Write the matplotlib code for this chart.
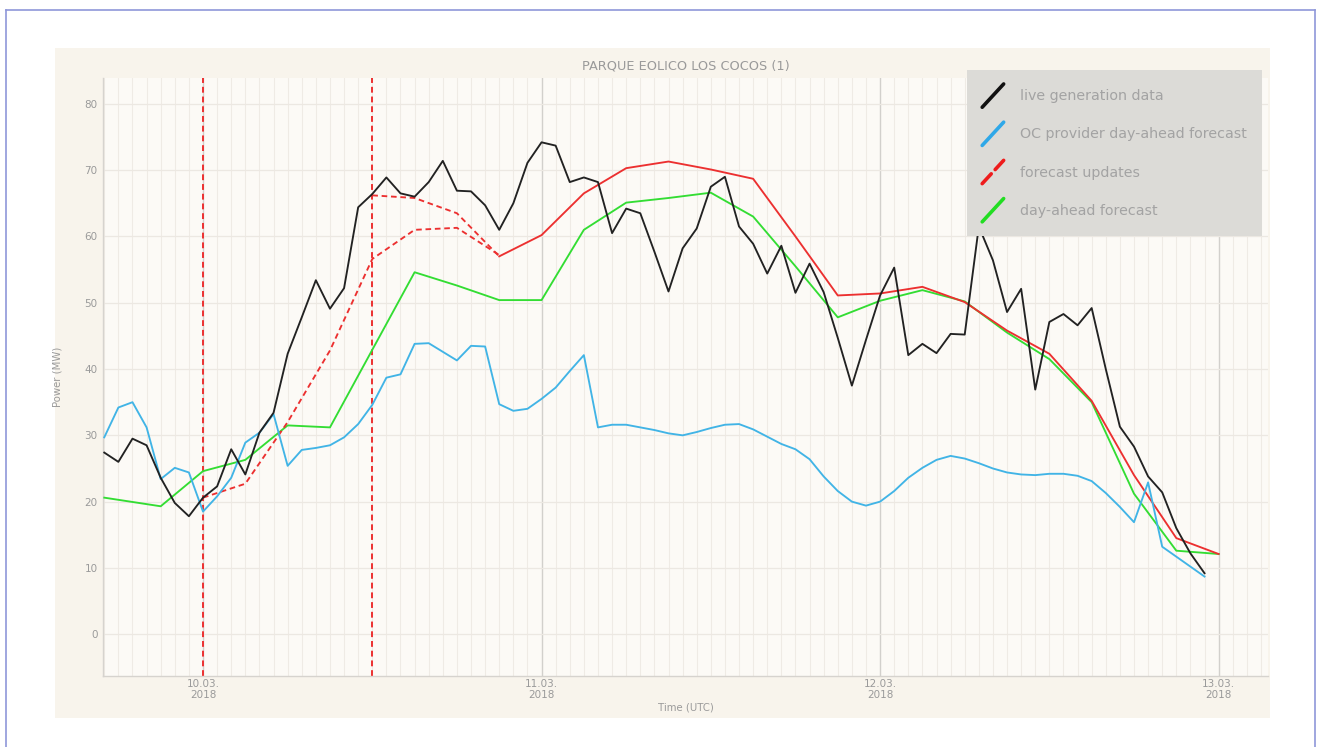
import numpy as np
import pandas as pd
import matplotlib
matplotlib.use("Agg")
import matplotlib.pyplot as plt
import matplotlib.dates as mdates
from matplotlib.lines import Line2D
from matplotlib.legend_handler import HandlerBase

# ---------------- data (hours relative to 10.03.2018 00:00 UTC) ----------------
live_hours = list(range(-7, 72))
live_mw = [27.4, 26.0, 29.5, 28.5, 23.6, 19.8, 17.8, 20.6, 22.3, 27.9,
           24.1, 30.4, 33.4, 42.3, 47.8, 53.4, 49.1, 52.2, 64.4, 66.4,
           68.9, 66.5, 66.0, 68.2, 71.4, 66.9, 66.8, 64.7, 61.0, 65.0,
           71.1, 74.2, 73.7, 68.2, 68.9, 68.2, 60.5, 64.2, 63.5, 57.7,
           51.7, 58.2, 61.2, 67.5, 69.0, 61.5, 58.9, 54.4, 58.6, 51.5,
           55.9, 51.6, 44.7, 37.5, 44.4, 51.1, 55.3, 42.1, 43.8, 42.4,
           45.3, 45.2, 61.5, 56.4, 48.6, 52.1, 36.9, 47.1, 48.3, 46.6,
           49.2, 40.0, 31.3, 28.3, 23.8, 21.4, 16.0, 12.2, 9.2]

oc_hours = list(range(-7, 72))
oc_mw = [29.7, 34.2, 35.0, 31.2, 23.4, 25.1, 24.4, 18.5, 20.8, 23.6,
         28.9, 30.4, 33.2, 25.4, 27.8, 28.1, 28.5, 29.7, 31.7, 34.6,
         38.7, 39.2, 43.8, 43.9, 42.6, 41.3, 43.5, 43.4, 34.7, 33.7,
         34.0, 35.5, 37.2, 39.7, 42.1, 31.2, 31.6, 31.6, 31.2, 30.8,
         30.3, 30.0, 30.5, 31.1, 31.6, 31.7, 30.9, 29.8, 28.7, 27.9,
         26.4, 23.8, 21.6, 20.0, 19.4, 20.0, 21.6, 23.6, 25.1, 26.3,
         26.9, 26.5, 25.8, 25.0, 24.4, 24.1, 24.0, 24.2, 24.2, 23.9,
         23.1, 21.3, 19.2, 16.9, 22.9, 13.2, 11.7, 10.2, 8.7]

dayahead_hours = [-7, -3, 0, 3, 6, 9, 12, 15, 18, 21, 24, 27, 30, 33, 36,
                  39, 42, 45, 48, 51, 54, 57, 60, 63, 66, 69, 72]
dayahead_mw = [20.6, 19.3, 24.6, 26.3, 31.5, 31.2, 42.9, 54.6, 52.6, 50.4,
               50.4, 61.0, 65.1, 65.8, 66.6, 63.0, 55.5, 47.8, 50.3, 51.9,
               50.2, 45.5, 41.5, 35.0, 21.2, 12.6, 12.1]

update1_hours = [0, 3, 6, 9, 12, 15, 18, 21]
update1_mw = [20.6, 22.7, 32.0, 42.8, 56.6, 61.0, 61.3, 57.2]

update2_hours = [12, 15, 18, 21]
update2_mw = [66.2, 65.8, 63.5, 57.0]

latest_hours = [21, 24, 27, 30, 33, 36, 39, 42, 45, 48, 51, 54, 57, 60, 63,
                66, 69, 72]
latest_mw = [57.0, 60.2, 66.5, 70.3, 71.3, 70.1, 68.7, 60.0, 51.1, 51.4,
             52.4, 50.1, 45.8, 42.3, 35.2, 24.0, 14.5, 12.1]

update_issue_hours = [0, 12]

title = "PARQUE EOLICO LOS COCOS (1)"
labels = ["live generation data", "OC provider day-ahead forecast",
          "forecast updates", "day-ahead forecast"]

base = pd.Timestamp("2018-03-10 00:00")


def to_time(hours):
    return base + pd.to_timedelta(np.asarray(hours, dtype=float), unit="h")


# ---------------- figure ----------------
W, H = 1317, 747
fig = plt.figure(figsize=(W / 100, H / 100), dpi=100, facecolor="white")

# outer blue frame
for (x0, y0, x1, y1) in [(6, 10, 6, 747), (6, 10, 1315, 10), (1315, 10, 1315, 747)]:
    fig.add_artist(Line2D([x0 / W, x1 / W], [1 - y0 / H, 1 - y1 / H],
                          transform=fig.transFigure, color="#8f97d9", lw=1.2))

# cream panel
panel = plt.Rectangle((55 / W, 1 - 718 / H), (1270 - 55) / W, (718 - 48) / H,
                      transform=fig.transFigure, facecolor="#f8f4ec",
                      edgecolor="none", zorder=0)
fig.add_artist(panel)

ax = fig.add_axes([103 / W, 1 - 676 / H, (1268 - 103) / W, (676 - 78) / H])
ax.set_facecolor("#fcfaf6")

lw = 1.35
ax.plot(to_time(dayahead_hours), dayahead_mw, color="#33dd33", lw=lw, zorder=3)
ax.plot(to_time(update1_hours), update1_mw, color="#ec3030", lw=lw, ls=(0, (3, 2)), zorder=3)
ax.plot(to_time(update2_hours), update2_mw, color="#ec3030", lw=lw, ls=(0, (3, 2)), zorder=3)
ax.plot(to_time(latest_hours), latest_mw, color="#ec3030", lw=lw, zorder=3)
ax.plot(to_time(oc_hours), oc_mw, color="#41b4e6", lw=lw, zorder=4)
ax.plot(to_time(live_hours), live_mw, color="#222222", lw=lw, zorder=5)

for hh in update_issue_hours:
    ax.axvline(to_time([hh])[0], color="#ec3030", lw=1.4, ls=(0, (3, 2)), zorder=2)

ax.set_xlim(to_time([-7.09])[0], to_time([75.5])[0])
ax.set_ylim(-6.3, 83.9)
ax.set_yticks([0, 10, 20, 30, 40, 50, 60, 70, 80])

ax.xaxis.set_major_locator(mdates.DayLocator())
ax.xaxis.set_major_formatter(mdates.DateFormatter("%d.%m.\n%Y"))
ax.xaxis.set_minor_locator(mdates.HourLocator())

ax.grid(which="major", axis="x", color="#d2d0cc", lw=1.0, zorder=1)
ax.grid(which="minor", axis="x", color="#efebe5", lw=0.8, zorder=1)
ax.grid(which="major", axis="y", color="#ece8e2", lw=0.9, zorder=1)
ax.set_axisbelow(True)

for s in ["top", "right"]:
    ax.spines[s].set_visible(False)
for s in ["left", "bottom"]:
    ax.spines[s].set_color("#d6d3ce")
    ax.spines[s].set_linewidth(1.0)

ax.tick_params(which="both", length=0, colors="#9a9a9a", labelsize=7.5)
ax.tick_params(axis="y", pad=4)
ax.tick_params(axis="x", pad=2)
for t in ax.get_xticklabels():
    t.set_linespacing(1.1)

ax.set_title(title, color="#9a9a9a", fontsize=9.3, pad=6)
ax.set_xlabel("Time (UTC)", color="#9a9a9a", fontsize=7.3, labelpad=2)
ax.set_ylabel("Power (MW)", color="#9a9a9a", fontsize=7.3, labelpad=16)


class DiagonalHandler(HandlerBase):
    def create_artists(self, legend, orig_handle, xdescent, ydescent,
                       width, height, fontsize, trans):
        x0 = -xdescent
        x1 = -xdescent + width
        y0 = -ydescent - height * 0.05
        y1 = -ydescent + height * 1.05
        line = Line2D([x0, x1], [y0, y1], color=orig_handle.get_color(),
                      lw=2.6, ls=orig_handle.get_linestyle(),
                      solid_capstyle="round", dash_capstyle="round")
        line.set_transform(trans)
        return [line]


handles = [Line2D([], [], color="#111111", ls="-"),
           Line2D([], [], color="#2fa8e8", ls="-"),
           Line2D([], [], color="#ee1c1c", ls=(0, (3, 2.5))),
           Line2D([], [], color="#22dd22", ls="-")]
leg = ax.legend(handles, labels, loc="upper right",
                bbox_to_anchor=(1262 / W, 1 - 70 / H), bbox_transform=fig.transFigure,
                borderaxespad=0, frameon=True, fancybox=False, fontsize=10.3,
                handler_map={Line2D: DiagonalHandler()},
                handlelength=1.5, handleheight=1.9, handletextpad=1.15,
                labelspacing=1.19, borderpad=1.05)
leg.get_frame().set_facecolor("#dcdbd7")
leg.get_frame().set_edgecolor("none")
leg.get_frame().set_alpha(1.0)
leg.set_zorder(10)
for t in leg.get_texts():
    t.set_color("#a3a3a3")

fig.savefig("out.png", dpi=100, facecolor="white")
